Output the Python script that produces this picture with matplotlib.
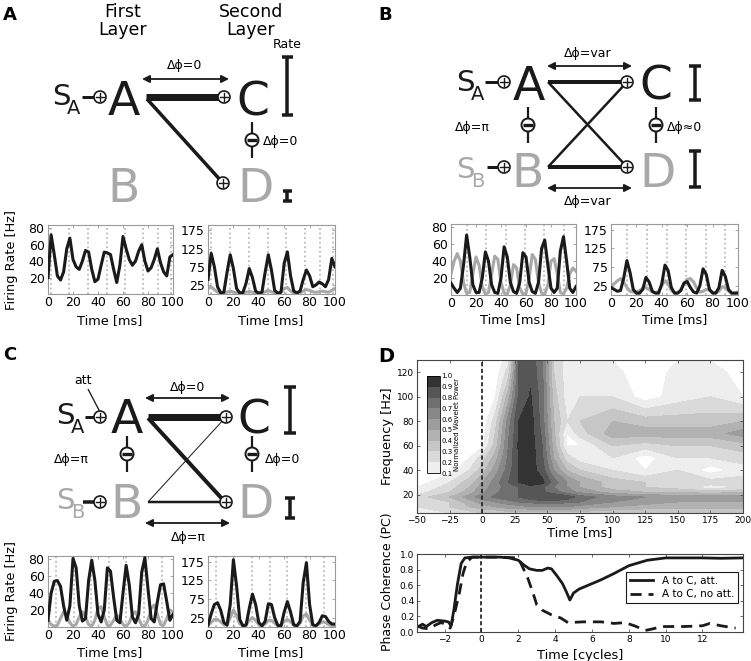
import numpy as np
import matplotlib
matplotlib.use('Agg')
import matplotlib.pyplot as plt
from matplotlib.patches import Circle

plt.rcParams['font.family'] = 'DejaVu Sans'

W, H = 751, 661
DARK = '#1a1a1a'
GRAY = '#a8a8a8'

# ---- firing rates, sampled every 2.5 ms (0..100 ms) ----
t_ms = np.linspace(0, 100, 41)

a_left_black = [20, 72, 48, 22, 17, 27, 55, 68, 42, 33,
                30, 40, 53, 51, 30, 15, 18, 35, 51, 50,
                48, 30, 14, 35, 70, 55, 42, 35, 40, 52,
                60, 40, 28, 32, 42, 55, 38, 27, 22, 45,
                48]
a_right_black = [40, 112, 75, 20, 3, 5, 60, 108, 70, 15,
                 3, 4, 30, 70, 45, 8, 2, 5, 60, 108,
                 65, 10, 2, 5, 85, 116, 50, 8, 3, 8,
                 40, 66, 50, 20, 25, 33, 28, 20, 40, 98,
                 75]
a_right_gray = [15, 20, 12, 5, 3, 3, 5, 8, 5, 3,
                3, 3, 5, 7, 5, 3, 3, 3, 6, 10,
                6, 3, 3, 5, 15, 18, 8, 3, 3, 3,
                8, 12, 10, 6, 5, 6, 8, 6, 5, 10,
                15]
b_left_black = [14, 8, 3, 8, 35, 71, 45, 12, 3, 3,
                20, 51, 40, 12, 3, 2, 20, 57, 45, 15,
                4, 2, 15, 50, 45, 15, 4, 2, 15, 55,
                65, 35, 8, 3, 8, 52, 69, 40, 8, 3,
                10]
b_left_gray = [25, 40, 49, 40, 15, 2, 3, 25, 45, 35,
               10, 1, 3, 25, 46, 42, 15, 2, 1, 12,
               36, 32, 8, 1, 2, 20, 48, 42, 15, 2,
               1, 12, 40, 43, 25, 3, 1, 8, 25, 32,
               28]
b_right_black = [20, 15, 10, 12, 45, 92, 60, 15, 5, 5,
                 15, 47, 35, 10, 5, 5, 30, 80, 65, 20,
                 5, 5, 12, 32, 36, 20, 8, 5, 25, 70,
                 55, 15, 5, 5, 20, 66, 50, 15, 5, 5,
                 5]
b_right_gray = [25, 30, 38, 44, 35, 20, 10, 8, 8, 12,
                18, 20, 15, 8, 6, 10, 25, 38, 30, 12,
                6, 6, 15, 30, 42, 44, 35, 18, 8, 10,
                15, 12, 8, 6, 10, 22, 20, 10, 5, 5,
                8]
c_left_black = [8, 40, 54, 55, 48, 25, 8, 25, 81, 70,
                25, 7, 10, 55, 79, 55, 15, 6, 20, 70,
                66, 35, 8, 5, 40, 73, 50, 12, 5, 15,
                65, 82, 45, 10, 6, 30, 50, 51, 30, 8,
                15]
c_left_gray = [8, 3, 1, 2, 10, 18, 14, 5, 1, 3,
               12, 18, 12, 3, 1, 8, 22, 24, 12, 2,
               2, 8, 14, 10, 3, 1, 5, 15, 18, 10,
               2, 1, 8, 22, 26, 15, 3, 2, 10, 20,
               18]
c_right_black = [5, 35, 60, 65, 45, 12, 5, 60, 180, 110,
                 20, 3, 5, 50, 88, 60, 12, 3, 15, 62,
                 60, 25, 4, 3, 40, 68, 40, 6, 3, 15,
                 120, 172, 60, 6, 3, 12, 30, 28, 15, 8,
                 8]
c_right_gray = [5, 12, 20, 20, 14, 6, 5, 25, 45, 30,
                8, 4, 6, 18, 25, 18, 6, 4, 8, 18,
                18, 10, 4, 5, 15, 20, 14, 5, 4, 10,
                30, 35, 18, 5, 4, 8, 14, 12, 6, 4,
                4]

a_peaks = [2.5, 17, 32, 47, 61.5, 76, 88, 98.5]
b_peaks = [12.5, 28, 44, 59, 74.5, 90]
c_peaks = [6, 20.5, 34.5, 48.5, 62.5, 77, 91]

# ---- wavelet power (panel D, top) ----
wt_ms = [-50, -25, -10, 0, 10, 20, 28, 37, 46, 55, 65, 75, 100, 125, 150, 175, 200]
wf_hz = [5, 10, 14, 18, 22, 26, 30, 40, 50, 60, 70, 80, 100, 120, 130]
power = [
    [0.15, 0.2, 0.25, 0.3, 0.3, 0.35, 0.35, 0.35, 0.35, 0.35, 0.35, 0.35, 0.3, 0.3, 0.3, 0.3, 0.3],
    [0.2, 0.3, 0.4, 0.45, 0.5, 0.55, 0.55, 0.6, 0.6, 0.6, 0.6, 0.55, 0.5, 0.45, 0.45, 0.45, 0.45],
    [0.25, 0.3, 0.45, 0.55, 0.6, 0.65, 0.7, 0.72, 0.75, 0.75, 0.72, 0.7, 0.6, 0.55, 0.5, 0.5, 0.5],
    [0.25, 0.4, 0.55, 0.65, 0.72, 0.78, 0.8, 0.88, 0.9, 0.9, 0.88, 0.75, 0.65, 0.6, 0.55, 0.55, 0.55],
    [0.15, 0.3, 0.45, 0.58, 0.68, 0.75, 0.8, 0.85, 0.82, 0.75, 0.65, 0.58, 0.45, 0.4, 0.4, 0.35, 0.4],
    [0.1, 0.25, 0.4, 0.55, 0.65, 0.75, 0.8, 0.87, 0.82, 0.7, 0.6, 0.5, 0.35, 0.3, 0.25, 0.15, 0.2],
    [0.05, 0.2, 0.35, 0.5, 0.65, 0.8, 0.9, 0.95, 0.93, 0.75, 0.6, 0.5, 0.35, 0.3, 0.25, 0.25, 0.25],
    [0.0, 0.05, 0.2, 0.35, 0.55, 0.75, 0.9, 0.95, 0.85, 0.6, 0.4, 0.3, 0.2, 0.1, 0.2, 0.05, 0.15],
    [0.0, 0.0, 0.1, 0.25, 0.45, 0.72, 0.9, 0.96, 0.82, 0.5, 0.25, 0.15, 0.2, 0.05, 0.2, 0.2, 0.25],
    [0.0, 0.0, 0.03, 0.08, 0.35, 0.7, 0.92, 0.96, 0.8, 0.45, 0.1, 0.1, 0.3, 0.25, 0.3, 0.3, 0.35],
    [0.0, 0.0, 0.02, 0.05, 0.3, 0.68, 0.9, 0.95, 0.78, 0.42, 0.1, 0.25, 0.45, 0.45, 0.45, 0.45, 0.55],
    [0.0, 0.0, 0.0, 0.03, 0.25, 0.65, 0.9, 0.95, 0.75, 0.4, 0.2, 0.3, 0.4, 0.35, 0.35, 0.35, 0.4],
    [0.0, 0.0, 0.0, 0.02, 0.1, 0.45, 0.82, 0.91, 0.75, 0.35, 0.15, 0.2, 0.2, 0.05, 0.15, 0.2, 0.1],
    [0.0, 0.0, 0.0, 0.0, 0.04, 0.25, 0.8, 0.88, 0.72, 0.3, 0.15, 0.2, 0.15, 0.0, 0.15, 0.15, 0.05],
    [0.0, 0.0, 0.0, 0.0, 0.02, 0.15, 0.8, 0.88, 0.7, 0.3, 0.15, 0.15, 0.1, 0.0, 0.1, 0.1, 0.05],
]
power_levels = [0.1, 0.2, 0.3, 0.4, 0.5, 0.6, 0.7, 0.8, 0.9, 1.0]
band_colors = ['#eeeeee', '#dadada', '#c6c6c6', '#b2b2b2', '#9d9d9d',
               '#878787', '#6f6f6f', '#565656', '#333333']

# ---- phase coherence (panel D, bottom) ----
cyc_att = [-3.5, -3.2, -3.0, -2.7, -2.4, -2.0, -1.8, -1.65, -1.5, -1.3,
           -1.1, -0.9, -0.5, 0, 1.0, 1.5, 2.0, 2.3, 2.6, 3.0,
           3.3, 3.6, 3.8, 4.1, 4.4, 4.6, 4.8, 5.0, 5.3, 5.8,
           6.5, 7.2, 8.0, 9.0, 10.0, 11, 12, 13, 14.2]
pc_att = [0.06, 0.1, 0.07, 0.12, 0.15, 0.14, 0.13, 0.08, 0.28, 0.62,
          0.88, 0.95, 0.96, 0.96, 0.96, 0.95, 0.92, 0.86, 0.81, 0.79,
          0.79, 0.82, 0.81, 0.72, 0.62, 0.52, 0.41, 0.5, 0.55, 0.6,
          0.67, 0.75, 0.85, 0.92, 0.95, 0.95, 0.95, 0.945, 0.95]
cyc_noatt = [-3.5, -3.2, -2.8, -2.5, -2.2, -1.9, -1.7, -1.5, -1.2, -1.0,
             -0.8, -0.5, 0, 1, 2.0, 2.2, 2.5, 2.8, 3.0, 3.3,
             3.8, 4.3, 4.7, 5.5, 6.5, 7.2, 7.8, 8.3, 8.9, 9.3,
             9.8, 11, 12, 12.4, 13, 13.8]
pc_noatt = [0.08, 0.05, 0.04, 0.09, 0.12, 0.1, 0.05, 0.2, 0.5, 0.75,
            0.9, 0.96, 0.96, 0.96, 0.95, 0.85, 0.7, 0.5, 0.35, 0.28,
            0.22, 0.18, 0.12, 0.13, 0.13, 0.11, 0.12, 0.08, 0.02, 0.04,
            0.07, 0.07, 0.08, 0.11, 0.08, 0.05]

fig = plt.figure(figsize=(7.51, 6.61), dpi=100)
ov = fig.add_axes([0, 0, 1, 1])
ov.set_xlim(0, W)
ov.set_ylim(H, 0)
ov.axis('off')


def axes_px(x0, y0, x1, y1):
    return fig.add_axes([x0 / W, 1 - y1 / H, (x1 - x0) / W, (y1 - y0) / H])


def txt(x, y, s, size=9, **kw):
    kw.setdefault('ha', 'center')
    kw.setdefault('va', 'center')
    ov.text(x, y, s, fontsize=size, **kw)


def line(xs, ys, w, color=DARK):
    ov.plot(xs, ys, color=color, lw=w * 0.72, solid_capstyle='butt', zorder=3)


def plus(x, y, r=6):
    ov.add_patch(Circle((x, y), r, fc='white', ec=DARK, lw=1.2, zorder=5))
    ov.plot([x - r + 2, x + r - 2], [y, y], color=DARK, lw=1, zorder=6)
    ov.plot([x, x], [y - r + 2, y + r - 2], color=DARK, lw=1, zorder=6)


def minus(x, y, r=6.5):
    line([x, x], [y - 18, y + 18], 2.2)
    ov.add_patch(Circle((x, y), r, fc='white', ec=DARK, lw=1.4, zorder=5))
    ov.plot([x - r + 1.5, x + r - 1.5], [y, y], color=DARK, lw=2.4, zorder=6,
            solid_capstyle='butt')


def ratebar(x, y0, y1, w=11, lw=3.5):
    line([x, x], [y0, y1], lw)
    line([x - w / 2, x + w / 2], [y0, y0], lw)
    line([x - w / 2, x + w / 2], [y1, y1], lw)


def darrow(x0, x1, y):
    ov.annotate('', xy=(x1, y), xytext=(x0, y),
                arrowprops=dict(arrowstyle='<|-|>', color=DARK, lw=1.3,
                                mutation_scale=11, shrinkA=0, shrinkB=0))


def node(x, base, s, color=DARK, size=34):
    ov.text(x, base, s, fontsize=size, ha='center', va='baseline', color=color)


def stim(x, base, sub, color=DARK):
    ov.text(x, base - 9, 'S', fontsize=21, ha='center', va='baseline', color=color)
    ov.text(x + 13, base, sub, fontsize=14, ha='center', va='baseline', color=color)


# ---------------- panel A diagram ----------------
txt(3, 15, 'A', 13, ha='left', weight='bold')
for cx, word in [(123, 'First'), (251, 'Second')]:
    ov.text(cx, 17, word, fontsize=12.5, ha='center', va='baseline')
    ov.text(cx, 35, 'Layer', fontsize=12.5, ha='center', va='baseline')
txt(287, 44, 'Rate', 9)
txt(185, 65, 'Δϕ=0', 9)
darrow(142, 229, 79)
stim(61, 114, 'A')
line([82, 94], [97, 97], 3)
plus(100, 97)
node(124, 115, 'A')
line([146, 223], [97, 97], 7)
line([147, 223], [99, 183], 3.5)
plus(224, 97)
plus(223, 183)
node(253, 115, 'C')
ratebar(287, 57, 115)
node(124, 202, 'B', GRAY)
node(255, 202, 'D', GRAY)
ratebar(287, 191, 201, w=9, lw=3.5)
minus(252, 140)
txt(263, 141, 'Δϕ=0', 9, ha='left')

# ---------------- panel B diagram ----------------
txt(378, 15, 'B', 13, ha='left', weight='bold')
txt(588, 53, 'Δϕ=var', 9)
darrow(547, 632, 66)
stim(465, 100, 'A')
line([485, 498], [82, 82], 3)
plus(504, 82)
node(529, 100, 'A')
line([548, 625], [82, 82], 4)
line([548, 627], [82, 167], 2.5)
line([548, 627], [167, 82], 2.5)
plus(627, 82)
node(656, 100, 'C')
ratebar(695, 66, 100, w=12)
stim(465, 187, 'B', GRAY)
line([487, 498], [167, 167], 3)
plus(504, 167)
node(528, 187, 'B', GRAY)
line([548, 625], [167, 167], 4)
plus(627, 167)
node(657, 187, 'D', GRAY)
ratebar(695, 151, 187, w=12)
darrow(547, 632, 188)
txt(588, 202, 'Δϕ=var', 9)
minus(528, 125)
txt(472, 127, 'Δϕ=π', 9)
minus(656, 125)
txt(667, 127, 'Δϕ≈0', 9, ha='left')

# ---------------- panel C diagram ----------------
txt(3, 355, 'C', 13, ha='left', weight='bold')
txt(83, 381, 'att', 9)
line([88, 100], [389, 412], 1.3)
txt(188, 387, 'Δϕ=0', 9)
darrow(145, 230, 398)
stim(65, 433, 'A')
line([85, 94], [417, 417], 3)
plus(100, 417)
node(127, 433, 'A')
line([148, 225], [417, 417], 7)
line([148, 225], [418, 502], 4)
line([148, 225], [502, 418], 1)
plus(226, 417)
node(254, 433, 'C')
ratebar(290, 387, 433, w=12)
stim(65, 518, 'B', GRAY)
line([83, 94], [502, 502], 3.5)
plus(100, 502)
node(127, 518, 'B', GRAY)
line([148, 225], [502, 502], 2.5)
plus(226, 502)
node(255, 518, 'D', GRAY)
ratebar(290, 498, 518, w=10)
darrow(145, 230, 523)
txt(188, 538, 'Δϕ=π', 9)
minus(127, 454)
txt(71, 460, 'Δϕ=π', 9)
minus(252, 454)
txt(265, 460, 'Δϕ=0', 9, ha='left')


# ---------------- firing rate plots ----------------
def rate_plot(box, black, gray, peaks, top, yticks):
    ax = axes_px(*box)
    for p in peaks:
        ax.axvline(p, color='#b0b0b0', ls=(0, (1.2, 1.8)), lw=1.1, zorder=1)
    if gray is not None:
        ax.plot(t_ms, gray, color=GRAY, lw=2.2, zorder=2)
    ax.plot(t_ms, black, color=DARK, lw=2.2, zorder=3)
    ax.set_xlim(0, 100)
    ax.set_ylim(0, top)
    ax.set_xticks([0, 20, 40, 60, 80, 100])
    ax.set_yticks(yticks)
    ax.tick_params(labelsize=9, direction='in', length=2.5, width=0.6,
                   color='#999999', top=True, right=True)
    ax.tick_params(axis='x', pad=1.5)
    ax.tick_params(axis='y', pad=2.5)
    for s in ax.spines.values():
        s.set_color('#9a9a9a')
        s.set_linewidth(0.8)
    return ax


left_ticks = [20, 40, 60, 80]
right_ticks = [25, 75, 125, 175]
rate_plot((48, 225, 173, 294), a_left_black, None, a_peaks, 84, left_ticks)
rate_plot((208, 225, 335, 294), a_right_black, a_right_gray, a_peaks, 190, right_ticks)
rate_plot((451, 224, 576, 295), b_left_black, b_left_gray, b_peaks, 84, left_ticks)
rate_plot((611, 224, 738, 295), b_right_black, b_right_gray, b_peaks, 190, right_ticks)
rate_plot((48, 556, 173, 627), c_left_black, c_left_gray, c_peaks, 84, left_ticks)
rate_plot((208, 556, 335, 627), c_right_black, c_right_gray, c_peaks, 190, right_ticks)

for x, y in [(110, 321), (271, 321), (513, 320), (675, 320), (110, 653), (271, 653)]:
    txt(x, y, 'Time [ms]', 9.3)
txt(12, 260, 'Firing Rate [Hz]', 9.3, rotation=90)
txt(12, 591, 'Firing Rate [Hz]', 9.3, rotation=90)

# ---------------- panel D ----------------
txt(378, 356, 'D', 14, ha='left', weight='bold')
axD = axes_px(417, 360, 743, 513)
cs = axD.contourf(wt_ms, wf_hz, power, levels=power_levels, colors=band_colors)
axD.axvline(0, color=DARK, ls=(0, (2.5, 1.5)), lw=1.2)
axD.set_xlim(-50, 200)
axD.set_ylim(5, 130)
axD.set_xticks([-50, -25, 0, 25, 50, 75, 100, 125, 150, 175, 200])
axD.set_yticks([20, 40, 60, 80, 100, 120])
axD.tick_params(labelsize=6.5, direction='in', length=2.5, width=0.6, pad=2,
                color='#555555', top=True, right=True)
for s in axD.spines.values():
    s.set_color('#444444')
    s.set_linewidth(0.8)

cax = axes_px(427, 376, 440, 473)
cb = fig.colorbar(cs, cax=cax, ticks=power_levels)
cb.set_ticklabels(['%.1f' % v for v in power_levels])
cb.ax.tick_params(labelsize=5, length=0, pad=1)
cb.set_label('Normalized Wavelet Power', fontsize=5, labelpad=1)
cb.outline.set_linewidth(0.6)

txt(580, 533, 'Time [ms]', 9.3)
txt(388, 436, 'Frequency [Hz]', 9.3, rotation=90)

axP = axes_px(417, 554, 743, 632)
axP.plot(cyc_att, pc_att, color=DARK, lw=2, label='A to C, att.')
axP.plot(cyc_noatt, pc_noatt, color=DARK, lw=2, ls=(0, (4, 2.5)), label='A to C, no att.')
axP.axvline(0, color=DARK, ls=(0, (2.5, 1.5)), lw=1.2)
axP.set_xlim(-3.5, 14.2)
axP.set_ylim(0, 1.0)
axP.set_xticks([-2, 0, 2, 4, 6, 8, 10, 12])
axP.set_yticks([0, 0.2, 0.4, 0.6, 0.8, 1.0])
axP.set_yticklabels(['0.0', '0.2', '0.4', '0.6', '0.8', '1.0'])
axP.tick_params(labelsize=6.5, direction='in', length=2.5, width=0.6, pad=2,
                color='#555555', top=True, right=True)
for s in axP.spines.values():
    s.set_color('#444444')
    s.set_linewidth(0.8)
leg = axP.legend(loc='upper right', bbox_to_anchor=(0.985, 0.77), borderaxespad=0,
                 fontsize=7.5, fancybox=False, framealpha=1, handlelength=2.2,
                 borderpad=0.4, labelspacing=0.3)
leg.get_frame().set_edgecolor(DARK)
leg.get_frame().set_linewidth(0.8)

txt(580, 655, 'Time [cycles]', 9.3)
txt(388, 582, 'Phase Coherence (PC)', 9, rotation=90)

fig.savefig('out.png', dpi=100)
